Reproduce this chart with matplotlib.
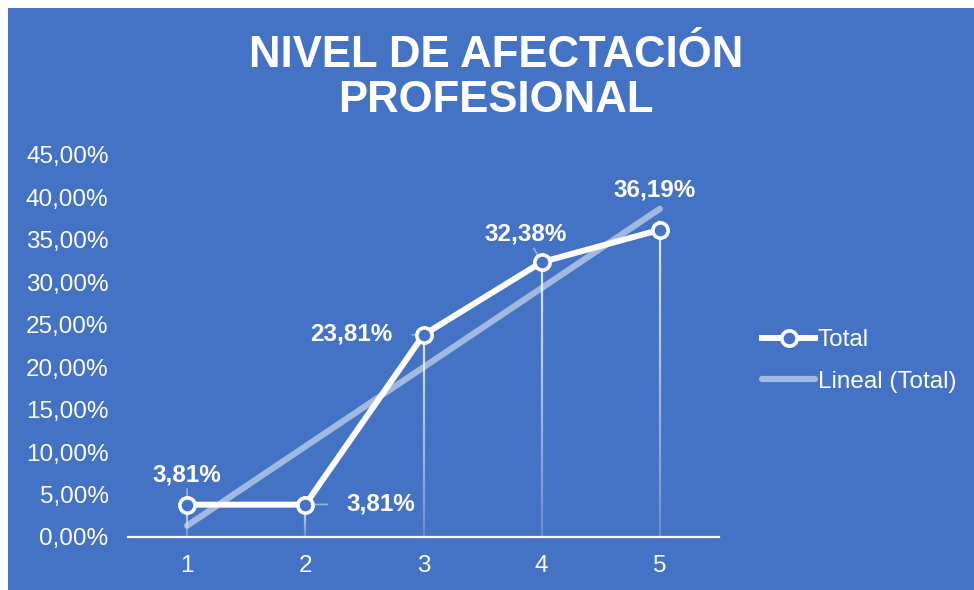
import numpy as np
import matplotlib
matplotlib.use('Agg')
import matplotlib.pyplot as plt
from matplotlib.patches import Rectangle
from matplotlib.collections import LineCollection

plt.rcParams['font.family'] = ['Liberation Sans', 'DejaVu Sans']

# data
levels = [1, 2, 3, 4, 5]
total = [3.81, 3.81, 23.81, 32.38, 36.19]
labels = ['3,81%', '3,81%', '23,81%', '32,38%', '36,19%']
yticks = [0, 5, 10, 15, 20, 25, 30, 35, 40, 45]
title = 'NIVEL DE AFECTACIÓN\nPROFESIONAL'

blue = '#4472C4'
fs = 17.5

fig = plt.figure(figsize=(9.74, 5.90), dpi=100)
fig.patch.set_facecolor('white')
# blue chart area (thin white margin top/left like the screenshot)
fig.patches.append(Rectangle((8/974, 0), 1, 582/590, transform=fig.transFigure,
                             facecolor=blue, edgecolor='none', zorder=-10))

ax = fig.add_axes([128/974, 53/590, 591/974, 382/590])
ax.set_facecolor('none')
ax.set_zorder(5)
ax.set_xlim(0.5, 5.5)
ax.set_ylim(0, 45)

# drop lines, fading toward the axis
segs, cols = [], []
for x, y in zip(levels, total):
    ys = np.linspace(y, 0, 40)
    for i in range(len(ys) - 1):
        segs.append([(x, ys[i]), (x, ys[i+1])])
        cols.append((1, 1, 1, 0.85 - 0.65 * i / (len(ys) - 2)))
ax.add_collection(LineCollection(segs, colors=cols, linewidths=1.6, zorder=2))

# linear trend
x = np.array(levels, dtype=float)
slope, icpt = np.polyfit(x, total, 1)
ax.plot(x, slope * x + icpt, color='white', alpha=0.5, lw=4.5,
        solid_capstyle='round', label='Lineal (Total)', zorder=3)

ax.plot(levels, total, color='white', lw=4.3, marker='o', ms=11,
        mfc=blue, mec='white', mew=2.6, label='Total', zorder=4)

# data labels with leader lines
offsets = [(0, 30), (76, 1), (-72, 1), (-16, 28), (-5, 40)]
for xi, yi, lab, (dx, dy) in zip(levels, total, labels, offsets):
    ax.annotate(lab, (xi, yi), xytext=(dx, dy), textcoords='offset pixels',
                ha='center', va='center', color='white', fontsize=fs,
                fontweight='bold', zorder=5,
                arrowprops=dict(arrowstyle='-', color=(1, 1, 1, 0.45), lw=1.2,
                                shrinkA=12, shrinkB=4))

ax.set_yticks(yticks)
ax.yaxis.set_major_formatter(plt.FuncFormatter(lambda v, p: ('%.2f%%' % v).replace('.', ',')))
ax.set_xticks(levels)
ax.tick_params(axis='both', length=0, colors='white', labelsize=fs)
ax.tick_params(axis='y', pad=14)
ax.tick_params(axis='x', pad=13)
for s in ['top', 'right', 'left']:
    ax.spines[s].set_visible(False)
ax.spines['bottom'].set_color('white')
ax.spines['bottom'].set_linewidth(1.6)

fig.text(496/974, 1 - 78/590, title, ha='center', va='center', color='white',
         fontsize=31.5, fontweight='bold', linespacing=1.15)

handles, labs = ax.get_legend_handles_labels()
leg = ax.legend(handles[::-1], labs[::-1], loc='center left',
                bbox_to_anchor=(740/974, 1 - 361/590), bbox_transform=fig.transFigure,
                frameon=False, fontsize=fs, handlelength=2.2, handletextpad=0.1,
                labelspacing=0.8)
for t in leg.get_texts():
    t.set_color('white')

fig.savefig('out.png', dpi=100, facecolor=fig.get_facecolor())
